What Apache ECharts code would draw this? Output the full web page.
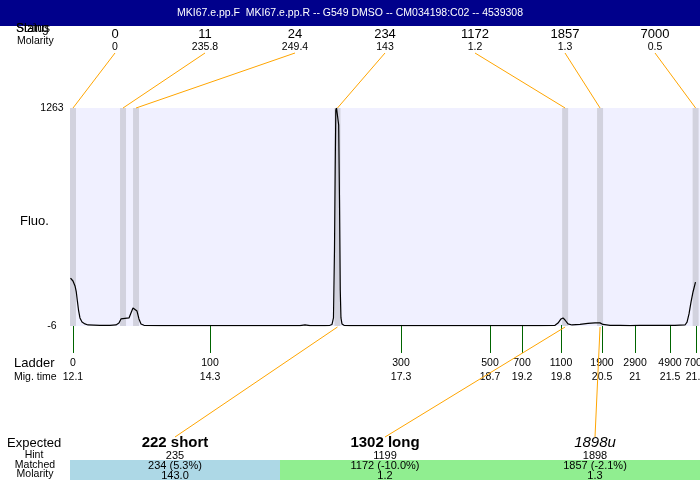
<!DOCTYPE html>
<html><head><meta charset="utf-8">
<script src="https://cdn.jsdelivr.net/npm/echarts@6/dist/echarts.min.js"></script>
<style>html,body{margin:0;padding:0;background:#fff}#c{width:700px;height:480px}</style>
</head><body><div id="c"></div>
<script>
const titleText = 'MKI67.e.pp.F  MKI67.e.pp.R -- G549 DMSO -- CM034198:C02 -- 4539308';
// detected peaks
const peakSizes = ['0', '11', '24', '234', '1172', '1857', '7000'];
const peakMolarity = ['0', '235.8', '249.4', '143', '1.2', '1.3', '0.5'];
const peakTimes = [12.10, 12.888, 13.093, 16.265, 19.85, 20.40, 21.905];
// ladder
const ladderSizes = ['0', '100', '300', '500', '700', '1100', '1900', '2900', '4900', '7000'];
const ladderTimes = [12.10, 14.258, 17.266, 18.667, 19.171, 19.785, 20.431, 20.951, 21.502, 21.911];
const ladderTimeLabels = ['12.1', '14.3', '17.3', '18.7', '19.2', '19.8', '20.5', '21', '21.5', '21.9'];
// expected / matched
const expectedNames = ['222 short', '1302 long', '1898u'];
const expectedHint = ['235', '1199', '1898'];
const matchedText = ['234 (5.3%)', '1172 (-10.0%)', '1857 (-2.1%)'];
const matchedMolarity = ['143.0', '1.2', '1.3'];
const matchedPeakIndex = [3, 4, 5];
// electropherogram trace
const traceTime = [12.061, 12.100, 12.132, 12.152, 12.171, 12.187, 12.210, 12.242, 12.289, 12.336,
  12.525, 12.683, 12.777, 12.824, 12.856, 12.887, 12.919, 12.950, 12.982, 13.013, 13.045, 13.076,
  13.108, 13.139, 13.171, 13.218, 13.470, 14.100, 14.887, 15.675, 15.754, 15.832, 16.068, 16.147,
  16.179, 16.202, 16.218, 16.229, 16.239, 16.250, 16.273, 16.284, 16.297, 16.309, 16.320, 16.336,
  16.368, 16.462, 17.250, 18.037, 18.824, 19.454, 19.691, 19.738, 19.785, 19.817, 19.848, 19.895,
  19.958, 20.084, 20.210, 20.320, 20.399, 20.447, 20.557, 20.713, 20.871, 21.028, 21.343, 21.580,
  21.738, 21.770, 21.801, 21.833, 21.864, 21.903];
const traceFluo = [273, 256, 227, 192, 134, 87, 41, 17, 6, 0,
  -2, -2, 0, 11, 35, 46, 38, 29, 41, 70, 99, 105,
  81, 35, 6, -2, -4, -4, -4, -4, 1, -4, -4, -2,
  3, 41, 436, 902, 1251, 1263, 1263, 1164, 727, 204, 41, 6,
  -2, -4, -4, -4, -4, -4, -2, 11, 35, 41, 29, 6,
  0, 3, 9, 12, 12, 3, -2, -2, -4, -2, -2, -2,
  0, 17, 64, 134, 192, 250];
const fluoMin = -6, fluoMax = 1263;
const timeMin = 12.053, timeMax = 21.974;

const FONT = 'Liberation Sans, Arial, sans-serif';
const chart = echarts.init(document.getElementById('c'), null, {renderer: 'canvas'});

function renderPeak(params, api) {
  const cs = params.coordSys;
  const i = api.value(1), j = api.value(2);
  const x = api.coord([api.value(0), fluoMax])[0];
  const n = peakSizes.length;
  const top = cs.y, bottom = cs.y + cs.height;
  const children = [
    {type: 'rect', shape: {x: x - 3, y: top, width: 6, height: cs.height}, style: {fill: '#D2D2DE'}},
    {type: 'line', shape: {x1: cs.x + cs.width * (i + 0.5) / n, y1: top - 55, x2: x, y2: top},
      style: {stroke: '#FFA500', lineWidth: 1}}
  ];
  if (j >= 0) {
    children.push({type: 'line', shape: {x1: x, y1: bottom + 1,
      x2: cs.x + cs.width * (j + 0.5) / expectedNames.length, y2: bottom + 111},
      style: {stroke: '#FFA500', lineWidth: 1}});
  }
  return {type: 'group', children};
}

function txt(text, x, y, size, align) {
  return {type: 'text', x: x, y: y, z: 20,
    style: {text: text, fill: '#000', fontSize: size, fontFamily: FONT, align: align || 'left', verticalAlign: 'middle'}};
}

const option = {
  animation: false,
  textStyle: {fontFamily: FONT},
  title: {text: titleText, left: 'center', top: 8, padding: 0,
    textStyle: {color: '#fff', fontSize: 10.5, fontWeight: 'normal', fontFamily: FONT}},
  graphic: [
    {type: 'rect', shape: {x: 0, y: 0, width: 700, height: 26}, style: {fill: '#00008B'}, z: -1},
    txt('Status', 16, 29, 12), txt('Sizing', 16, 29, 12),
    txt('Molarity', 17, 41, 10.5),
    txt('Fluo.', 20, 221, 13),
    txt('Ladder', 14, 363, 13),
    txt('Mig. time', 14, 377, 10.5),
    txt('Expected', 7, 443, 13),
    txt('Hint', 34, 455, 10.5, 'center'),
    txt('Matched', 35, 465.5, 10.5, 'center'),
    txt('Molarity', 35, 474.5, 10.5, 'center')
  ],
  grid: [
    {left: 70, top: 108, width: 630, height: 218, show: true, backgroundColor: '#F0F0FF', borderWidth: 0,
      containLabel: false, outerBoundsMode: 'none'},
    {left: 70, top: 27, width: 630, height: 1, containLabel: false, outerBoundsMode: 'none'},
    {left: 70, top: 460, width: 630, height: 20, containLabel: false, outerBoundsMode: 'none'},
    {left: 70, top: 430, width: 630, height: 6, containLabel: false, outerBoundsMode: 'none'}
  ],
  xAxis: [
    {gridIndex: 0, type: 'value', min: timeMin, max: timeMax,
      axisLine: {show: false}, splitLine: {show: false},
      axisTick: {show: true, customValues: ladderTimes, length: 28, lineStyle: {color: '#006400', width: 1}},
      axisLabel: {customValues: ladderTimes, margin: 30, color: '#000',
        formatter: function (v) {
          const k = ladderTimes.findIndex(t => Math.abs(t - v) < 1e-6);
          return '{a|' + ladderSizes[k] + '}\n{b|' + ladderTimeLabels[k] + '}';
        },
        rich: {a: {fontSize: 10.5, lineHeight: 14, fontFamily: FONT}, b: {fontSize: 10.5, lineHeight: 14, fontFamily: FONT}}}},
    {gridIndex: 1, type: 'category', data: peakSizes, position: 'bottom',
      axisLine: {show: false}, axisTick: {show: false}, splitLine: {show: false},
      axisLabel: {interval: 0, margin: 0, color: '#000',
        formatter: function (v, i) { return '{s|' + v + '}\n{m|' + peakMolarity[i] + '}'; },
        rich: {s: {fontSize: 13, lineHeight: 13, fontFamily: FONT}, m: {fontSize: 10.5, lineHeight: 12, fontFamily: FONT}}}},
    {gridIndex: 2, type: 'category', data: expectedNames, show: false},
    {gridIndex: 3, type: 'category', data: expectedNames, position: 'bottom', z: 10,
      axisLine: {show: false}, axisTick: {show: false}, splitLine: {show: false},
      axisLabel: {interval: 0, margin: 0, color: '#000',
        formatter: function (v, i) {
          const style = /u$/.test(v) ? 'u' : 'n';
          return '{' + style + '|' + v + '}\n{h|' + expectedHint[i] + '}\n{m|' + matchedText[i] + '}\n{m|' + matchedMolarity[i] + '}';
        },
        rich: {
          n: {fontSize: 15, fontWeight: 'bold', lineHeight: 14, fontFamily: FONT},
          u: {fontSize: 15, fontStyle: 'italic', lineHeight: 14, fontFamily: FONT},
          h: {fontSize: 11, lineHeight: 11, fontFamily: FONT},
          m: {fontSize: 11, lineHeight: 10, fontFamily: FONT}
        }}}
  ],
  yAxis: [
    {gridIndex: 0, type: 'value', min: fluoMin, max: fluoMax,
      axisLine: {show: false}, axisTick: {show: false}, splitLine: {show: false},
      axisLabel: {customValues: [fluoMin, fluoMax], align: 'center', margin: 18, fontSize: 10.5, color: '#000',
        formatter: v => String(v)}},
    {gridIndex: 1, type: 'value', show: false},
    {gridIndex: 2, type: 'value', min: 0, max: 1, show: false},
    {gridIndex: 3, type: 'value', show: false}
  ],
  series: [
    {type: 'custom', xAxisIndex: 0, yAxisIndex: 0, clip: false, silent: true, z: 1,
      renderItem: renderPeak,
      data: peakTimes.map((t, i) => [t, i, matchedPeakIndex.indexOf(i)])},
    {type: 'line', xAxisIndex: 0, yAxisIndex: 0, showSymbol: false, silent: true, z: 3,
      lineStyle: {color: '#000', width: 1.2},
      data: traceTime.map((t, i) => [t, traceFluo[i]])},
    {type: 'bar', xAxisIndex: 2, yAxisIndex: 2, barWidth: '100%', silent: true, z: 2,
      itemStyle: {color: p => p.dataIndex === 0 ? '#ADD8E6' : '#90EE90'},
      data: expectedNames.map(() => 1)}
  ]
};
chart.setOption(option);
</script>
</body></html>
